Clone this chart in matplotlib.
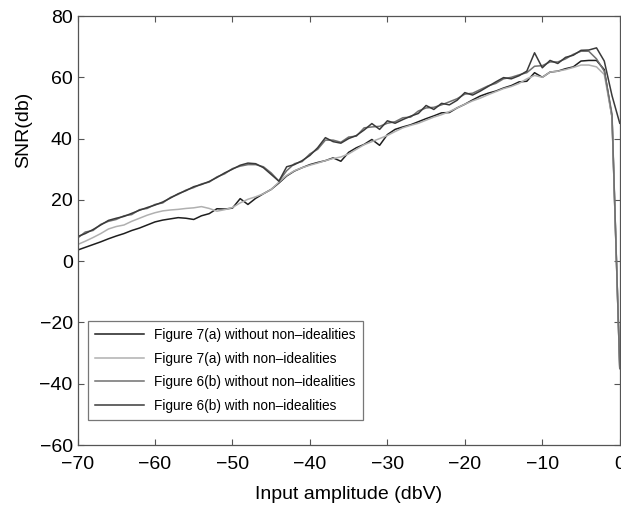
import numpy as np
import matplotlib
matplotlib.use("Agg")
import matplotlib.pyplot as plt

plt.rcParams["font.family"] = ["Liberation Sans", "DejaVu Sans"]

# input amplitude in dBV, 1 dB steps
amp = list(range(-70, 1))

# Figure 7(a) without non-idealities
snr_7a_ideal = [3.6, 4.5, 5.4, 6.3, 7.3, 8.2, 9.0, 10.0, 10.8, 11.8,
                12.8, 13.4, 13.8, 14.2, 14.0, 13.6, 14.8, 15.5, 17.1, 17.0,
                17.3, 20.4, 18.5, 20.5, 22.0, 23.4, 25.5, 27.8, 29.4, 30.5,
                31.5, 32.2, 32.8, 33.7, 32.6, 35.5, 37.0, 38.1, 39.7, 37.8,
                41.3, 43.0, 43.8, 44.5, 45.5, 46.5, 47.4, 48.4, 48.5, 50.0,
                51.2, 52.6, 53.9, 54.8, 55.5, 56.5, 57.3, 58.5, 58.7, 61.5,
                60.0, 61.7, 62.0, 62.8, 63.4, 65.3, 65.5, 65.5, 62.5, 47.0,
                -35.0]

# Figure 7(a) with non-idealities
snr_7a_nonideal = [5.4, 6.5, 7.7, 9.0, 10.5, 11.3, 11.8, 13.0, 14.0, 15.0,
                   15.8, 16.4, 16.7, 16.9, 17.2, 17.4, 17.8, 17.2, 16.3, 16.8,
                   17.5, 19.0, 20.2, 21.0, 22.0, 23.4, 25.8, 28.0, 29.5, 30.5,
                   31.3, 32.0, 32.8, 33.5, 34.0, 35.0, 36.5, 38.0, 39.0, 40.0,
                   41.0, 42.3, 43.5, 44.3, 45.0, 46.0, 47.0, 47.8, 48.8, 50.0,
                   51.2, 52.3, 53.2, 54.3, 55.3, 56.3, 57.0, 58.0, 59.5, 60.6,
                   60.0, 61.7, 62.0, 62.5, 63.2, 64.0, 64.0, 63.4, 60.9, 47.0,
                   -35.0]

# Figure 6(b) without non-idealities
snr_6b_ideal = [7.5, 9.5, 10.0, 12.0, 13.0, 13.6, 14.8, 15.2, 16.8, 17.2,
                18.5, 19.0, 20.8, 21.8, 23.2, 24.0, 25.2, 25.8, 27.5, 28.5,
                30.2, 31.0, 31.5, 31.5, 30.8, 28.8, 26.1, 29.5, 31.8, 32.5,
                35.0, 36.5, 39.5, 39.5, 38.8, 40.5, 40.8, 43.5, 43.8, 44.0,
                45.0, 45.5, 46.8, 47.0, 49.0, 50.0, 50.2, 51.0, 52.0, 53.0,
                54.5, 54.8, 56.0, 57.2, 58.0, 59.5, 60.0, 60.8, 61.5, 63.6,
                63.8, 65.0, 65.0, 66.0, 67.5, 68.5, 68.5, 66.0, 62.0, 48.0,
                -35.0]

# Figure 6(b) with non-idealities
snr_6b_nonideal = [8.0, 9.0, 10.3, 11.8, 13.3, 14.0, 14.6, 15.6, 16.6, 17.5,
                   18.3, 19.3, 20.6, 22.0, 23.0, 24.3, 25.0, 26.0, 27.3, 28.8,
                   30.0, 31.3, 32.0, 31.8, 30.5, 28.3, 26.1, 30.8, 31.5, 32.8,
                   34.5, 37.0, 40.3, 39.0, 38.5, 40.0, 41.0, 42.8, 44.9, 43.0,
                   45.8, 45.0, 46.2, 47.3, 48.2, 50.8, 49.5, 51.5, 51.0, 52.5,
                   55.0, 54.2, 55.5, 57.0, 58.5, 59.9, 59.5, 60.5, 62.0, 68.0,
                   63.1, 65.5, 64.5, 66.5, 67.2, 68.8, 68.9, 69.6, 65.3, 54.0,
                   45.0]

labels = ["Figure 7(a) without non\u2013idealities",
          "Figure 7(a) with non\u2013idealities",
          "Figure 6(b) without non\u2013idealities",
          "Figure 6(b) with non\u2013idealities"]
colors = ["#1e1e1e", "#b0b0b0", "#707070", "#3a3a3a"]

fig = plt.figure(figsize=(6.21, 5.08), dpi=100)
ax = fig.add_axes([0.1248, 0.124, 0.8732, 0.8445])

series = [snr_7a_ideal, snr_7a_nonideal, snr_6b_ideal, snr_6b_nonideal]
for ys, lab, c in zip(series, labels, colors):
    ax.plot(amp, ys, color=c, lw=1.1, label=lab)

ax.set_xlim(-70, 0)
ax.set_ylim(-60, 80)
ax.set_xticks(np.arange(-70, 1, 10))
ax.set_yticks(np.arange(-60, 81, 20))
ax.tick_params(direction="in", length=4.5, width=0.8, color="#555555",
               labelsize=14, top=True, right=True)
ax.tick_params(axis="x", pad=8)
for s in ax.spines.values():
    s.set_color("#555555")
    s.set_linewidth(0.9)

ax.set_xlabel("Input amplitude (dbV)", fontsize=14, labelpad=9)
ax.set_ylabel("SNR(db)", fontsize=14, labelpad=4)
ax.yaxis.set_label_coords(-0.083, 0.734)

leg = ax.legend(loc="lower left", bbox_to_anchor=(0.019, 0.058),
                fontsize=9.8, frameon=True, fancybox=False,
                borderaxespad=0, handlelength=3.6, labelspacing=0.7,
                borderpad=0.55, handletextpad=0.7)
leg.get_frame().set_edgecolor("#555555")
leg.get_frame().set_linewidth(0.9)

fig.savefig("out.png", dpi=100)
